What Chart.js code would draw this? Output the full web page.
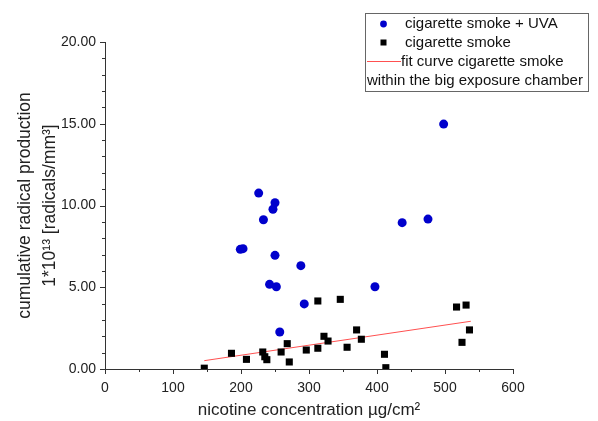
<!DOCTYPE html>
<html><head><meta charset="utf-8">
<script src="https://cdn.jsdelivr.net/npm/chart.js@4/dist/chart.umd.min.js"></script>
<style>html,body{margin:0;padding:0;background:#fff}#wrap{width:598px;height:421px}</style>
</head><body><div id="wrap"><canvas id="c" width="598" height="421"></canvas></div>
<script>
const uvaX = [226, 250, 247, 233, 199, 203, 250, 288, 242, 252, 293, 257, 498, 437, 475, 397];
const uvaY = [10.76, 10.17, 9.77, 9.13, 7.32, 7.36, 6.95, 6.32, 5.18, 5.03, 3.98, 2.26, 14.98, 8.95, 9.17, 5.03];
const smokeX = [146, 186, 208, 232, 235, 238, 259, 268, 271, 296, 313, 313, 322, 328, 346, 356, 370, 377, 411, 413, 517, 531, 536, 525];
const smokeY = [0.05, 0.96, 0.59, 1.04, 0.75, 0.57, 1.04, 1.55, 0.43, 1.16, 4.16, 1.27, 2.0, 1.71, 4.26, 1.33, 2.39, 1.82, 0.9, 0.08, 3.79, 3.91, 2.39, 1.63];
const fitX = [146, 538];
const fitY = [0.51, 2.92];
const legendLabels = ['cigarette smoke + UVA', 'cigarette smoke', 'fit curve cigarette smoke', 'within the big exposure chamber'];
const xTitle = 'nicotine concentration µg/cm²';
const yTitle = ['cumulative radical production', '1*10¹³ [radicals/mm³]'];

const toPts = (xs, ys) => xs.map((x, i) => ({x, y: ys[i]}));
const FONT = '"Liberation Sans", Arial, sans-serif';

const minorTicks = {
  id: 'minorTicks',
  afterDraw(chart) {
    const ctx = chart.ctx;
    const xs = chart.scales.x, ys = chart.scales.y;
    ctx.save();
    ctx.strokeStyle = '#333';
    ctx.lineWidth = 1;
    ctx.beginPath();
    for (let v = 0; v <= 600; v += 50) {
      const px = Math.round(xs.getPixelForValue(v)) + 0.5;
      const len = v % 100 === 0 ? 5 : 3;
      ctx.moveTo(px, xs.top); ctx.lineTo(px, xs.top + len);
    }
    for (let v = 0; v <= 20; v += 1) {
      const py = Math.round(ys.getPixelForValue(v)) + 0.5;
      const len = v % 5 === 0 ? 5 : 3;
      ctx.moveTo(ys.right, py); ctx.lineTo(ys.right - len, py);
    }
    ctx.stroke();
    ctx.restore();
  }
};

const customLegend = {
  id: 'customLegend',
  afterDraw(chart) {
    const ctx = chart.ctx;
    ctx.save();
    ctx.fillStyle = '#fff';
    ctx.fillRect(365, 13, 224, 79);
    ctx.strokeStyle = '#666';
    ctx.lineWidth = 1;
    ctx.strokeRect(365.5, 13.5, 223, 78);
    ctx.font = '15px ' + FONT;
    ctx.textBaseline = 'middle';
    ctx.fillStyle = '#0000cc';
    ctx.beginPath(); ctx.arc(383.5, 24, 3.4, 0, Math.PI * 2); ctx.fill();
    ctx.fillStyle = '#111';
    ctx.fillText(legendLabels[0], 405, 24);
    ctx.fillStyle = '#000';
    ctx.fillRect(380.5, 39.5, 6, 6);
    ctx.fillStyle = '#111';
    ctx.fillText(legendLabels[1], 405, 43);
    ctx.strokeStyle = '#ff5050';
    ctx.beginPath(); ctx.moveTo(367, 61.5); ctx.lineTo(401, 61.5); ctx.stroke();
    ctx.fillText(legendLabels[2], 401, 62);
    ctx.fillText(legendLabels[3], 367, 81);
    ctx.restore();
  }
};

new Chart(document.getElementById('c'), {
  type: 'scatter',
  data: {
    datasets: [
      {label: legendLabels[0], data: toPts(uvaX, uvaY), pointStyle: 'circle', pointRadius: 4.5,
       backgroundColor: '#0000cc', borderColor: '#0000cc', borderWidth: 0},
      {label: legendLabels[1], data: toPts(smokeX, smokeY), pointStyle: 'rect', pointRadius: 5,
       backgroundColor: '#000', borderColor: '#000', borderWidth: 0},
      {label: legendLabels[2], data: toPts(fitX, fitY), showLine: true, pointRadius: 0,
       borderColor: '#ff5050', borderWidth: 1, fill: false}
    ]
  },
  options: {
    responsive: false,
    animation: false,
    devicePixelRatio: 1,
    layout: {padding: {left: 0, right: 85, top: 42, bottom: 0}},
    plugins: {legend: {display: false}, tooltip: {enabled: false}},
    scales: {
      x: {
        type: 'linear', min: 0, max: 600,
        grid: {display: false, drawTicks: false},
        border: {display: true, color: '#333', width: 1},
        ticks: {stepSize: 100, padding: 11, color: '#222', font: {family: FONT, size: 14}, maxRotation: 0},
        title: {display: true, text: xTitle, color: '#222', font: {family: FONT, size: 17}, padding: {top: 4, bottom: 0}},
        afterFit: s => { s.height = 52; }
      },
      y: {
        type: 'linear', min: 0, max: 20,
        grid: {display: false, drawTicks: false},
        border: {display: true, color: '#333', width: 1},
        ticks: {stepSize: 5, padding: 9, color: '#222', font: {family: FONT, size: 14},
                callback: v => Number(v).toFixed(2)},
        title: {display: true, text: yTitle, color: '#222', font: {family: FONT, size: 17.5, lineHeight: '25px'}, padding: {top: 12.5, bottom: 0}},
        afterFit: s => { s.width = 105; }
      }
    }
  },
  plugins: [minorTicks, customLegend]
});
</script></body></html>
